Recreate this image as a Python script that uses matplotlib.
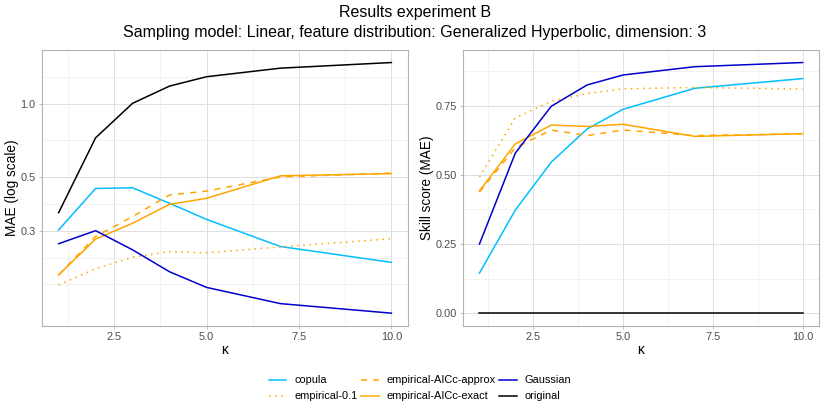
import numpy as np
import matplotlib
matplotlib.use("Agg")
import matplotlib.pyplot as plt
from matplotlib.ticker import FixedLocator, FuncFormatter

plt.rcParams['font.family'] = ['Liberation Sans', 'DejaVu Sans']

# kappa values
kappa = [1, 2, 3, 4, 5, 7, 10]

# MAE (left panel)
mae = {
    'copula': [0.302, 0.448, 0.451, 0.389, 0.334, 0.258, 0.222],
    'empirical-0.1': [0.179, 0.209, 0.233, 0.246, 0.243, 0.257, 0.278],
    'empirical-AICc-approx': [0.197, 0.284, 0.343, 0.421, 0.437, 0.500, 0.518],
    'empirical-AICc-exact': [0.197, 0.277, 0.322, 0.385, 0.408, 0.505, 0.516],
    'Gaussian': [0.265, 0.300, 0.250, 0.203, 0.175, 0.150, 0.137],
    'original': [0.356, 0.725, 1.006, 1.185, 1.295, 1.405, 1.482],
}

# skill score (right panel)
skill = {
    'copula': [0.145, 0.373, 0.546, 0.666, 0.737, 0.813, 0.848],
    'empirical-0.1': [0.492, 0.706, 0.766, 0.794, 0.811, 0.816, 0.810],
    'empirical-AICc-approx': [0.438, 0.598, 0.662, 0.642, 0.662, 0.642, 0.648],
    'empirical-AICc-exact': [0.442, 0.612, 0.680, 0.675, 0.683, 0.639, 0.649],
    'Gaussian': [0.250, 0.579, 0.748, 0.825, 0.861, 0.891, 0.906],
    'original': [0, 0, 0, 0, 0, 0, 0],
}

mae_breaks = [0.3, 0.5, 1.0]
skill_breaks = [0.0, 0.25, 0.5, 0.75]
x_breaks = [2.5, 5.0, 7.5, 10.0]

styles = {
    'copula': dict(color='#00BFFF', ls='-'),
    'empirical-0.1': dict(color='#FFA500', ls=(0, (1, 3))),
    'empirical-AICc-approx': dict(color='#FFA500', ls=(0, (4, 4))),
    'empirical-AICc-exact': dict(color='#FFA500', ls='-'),
    'Gaussian': dict(color='#0000CD', ls='-'),
    'original': dict(color='black', ls='-'),
}

TICK_FS = 7.9
AXIS_FS = 9.8
TITLE_FS = 11.5

fig = plt.figure(figsize=(8.3, 4.15), dpi=100)
ax1 = fig.add_axes([0.0506, 0.2152, 0.4410, 0.6643])
ax2 = fig.add_axes([0.5582, 0.2152, 0.4282, 0.6643])


def style_axes(ax):
    for s in ax.spines.values():
        s.set_color('#B3B3B3')
        s.set_linewidth(0.8)
    ax.set_facecolor('white')
    ax.grid(which='major', color='#DEDEDE', lw=0.7)
    ax.grid(which='minor', color='#EDEDED', lw=0.5)
    ax.set_axisbelow(True)
    ax.tick_params(which='major', colors='#B3B3B3', labelcolor='#4D4D4D',
                   labelsize=TICK_FS, length=2.5, width=0.6, pad=2)
    ax.tick_params(which='minor', length=0)
    ax.set_xlim(0.55, 10.45)
    ax.xaxis.set_major_locator(FixedLocator(x_breaks))
    ax.xaxis.set_minor_locator(FixedLocator([1.25, 3.75, 6.25, 8.75]))
    ax.xaxis.set_major_formatter(FuncFormatter(lambda v, p: f'{v:.1f}'))
    ax.set_xlabel('κ', fontsize=AXIS_FS, labelpad=1)


lines = []
for name in mae:
    st = styles[name]
    l, = ax1.plot(kappa, mae[name], color=st['color'], ls=st['ls'], lw=1.1, label=name)
    lines.append(l)
    ax2.plot(kappa, skill[name], color=st['color'], ls=st['ls'], lw=1.1)

# left: log scale
ax1.set_yscale('log')
all_mae = np.concatenate([mae[k] for k in mae])
lo, hi = np.log10(all_mae.min()), np.log10(all_mae.max())
pad = 0.05 * (hi - lo)
ax1.set_ylim(10 ** (lo - pad), 10 ** (hi + pad))
# ggplot-style minor breaks: midpoints, extended by the first step
lb = list(np.log10(mae_breaks))
step = lb[1] - lb[0]
ext = [lb[0] - step] + lb + [lb[-1] + step]
mins = [(ext[i] + ext[i + 1]) / 2 for i in range(len(ext) - 1)]
mins += [ext[0], ext[-1]]
ax1.yaxis.set_major_locator(FixedLocator(mae_breaks))
ax1.yaxis.set_minor_locator(FixedLocator([10 ** m for m in mins]))
ax1.yaxis.set_major_formatter(FuncFormatter(lambda v, p: f'{v:.1f}'))
ax1.yaxis.set_minor_formatter(FuncFormatter(lambda v, p: ''))
ax1.set_ylabel('MAE (log scale)', fontsize=AXIS_FS)
ax1.yaxis.set_label_coords(-0.064, 0.5)
style_axes(ax1)

# right: skill score
all_sk = np.concatenate([skill[k] for k in skill])
pad = 0.05 * (all_sk.max() - all_sk.min())
ax2.set_ylim(all_sk.min() - pad, all_sk.max() + pad)
ax2.yaxis.set_major_locator(FixedLocator(skill_breaks))
ax2.yaxis.set_minor_locator(FixedLocator([0.125, 0.375, 0.625, 0.875]))
ax2.yaxis.set_major_formatter(FuncFormatter(lambda v, p: f'{v:.2f}'))
ax2.set_ylabel('Skill score (MAE)', fontsize=AXIS_FS)
ax2.yaxis.set_label_coords(-0.083, 0.5)
style_axes(ax2)

fig.text(0.5, 1 - 12 / 415, 'Results experiment B', ha='center', va='center', fontsize=TITLE_FS)
fig.text(0.5, 1 - 33 / 415,
         'Sampling model: Linear, feature distribution: Generalized Hyperbolic, dimension: 3',
         ha='center', va='center', fontsize=TITLE_FS)

fig.legend(handles=lines, loc='center', bbox_to_anchor=(0.506, 0.064), ncol=3,
           frameon=False, fontsize=TICK_FS, handlelength=1.6, handletextpad=0.7,
           columnspacing=0.35, labelspacing=0.55)

fig.savefig('out.png', dpi=100)
